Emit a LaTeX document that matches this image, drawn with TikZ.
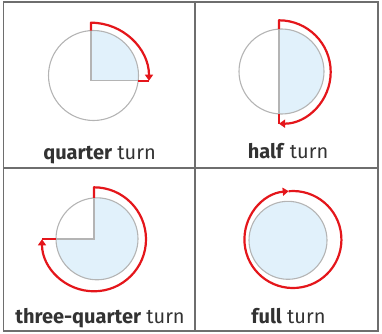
\documentclass[tikz,border=0pt]{standalone}
\usepackage{fontspec}
\setmainfont{Fira Sans}
\usepackage{tikz}
\usetikzlibrary{arrows.meta}
\definecolor{turnred}{RGB}{228,22,27}
\definecolor{dialgray}{RGB}{180,180,180}
\definecolor{shareblue}{RGB}{225,241,251}
\definecolor{gridgray}{RGB}{110,110,110}
\definecolor{textgray}{RGB}{50,50,50}

\begin{document}
\begin{tikzpicture}[
  x=1pt,y=1pt,
  gridline/.style={draw=gridgray,line width=1.1pt},
  dial/.style={draw=dialgray,line width=1.1pt},
  share/.style={fill=shareblue},
  turnarrow/.style={draw=turnred,line width=2.2pt,line join=round},
  turntip/.style={-{Triangle[length=6pt,width=8pt]}},
  lbl/.style={anchor=base,text=textgray,font=\fontsize{20}{24}\selectfont}
]
  \useasboundingbox (0,0) rectangle (382,333);

  % table
  \draw[gridline] (3.5,2) rectangle (378,331);
  \draw[gridline] (195,2) -- (195,331);
  \draw[gridline] (3.5,165) -- (378,165);

  % quarter turn
  \begin{scope}
    \clip (93.5,257.5) circle[radius=45];
    \fill[share] (91,252.3) rectangle (150,310);
  \end{scope}
  \draw[dial] (93.5,257.5) circle[radius=45];
  \draw[dial] (91,302.4) -- (91,252.3) -- (138.2,252.3);
  \draw[turnarrow,turntip] (91,302.4) -- (91,310.3) arc[start angle=90,end angle=0,radius=58];
  \draw[turnarrow] (149,252.3) -- (138.2,252.3);
  \node[lbl] (quarter) at (99.5,174) {\textbf{quarter} turn};

  % half turn
  \begin{scope}
    \clip (281.5,261.5) circle[radius=42.5];
    \fill[share] (279,210) rectangle (330,310);
  \end{scope}
  \draw[dial] (281.5,261.5) circle[radius=42.5];
  \draw[dial] (279,303.9) -- (279,219.1);
  \draw[turnarrow,turntip] (279,303.9) -- (279,312.7) arc[start angle=90,end angle=-90,radius=51.7];
  \draw[turnarrow] (279,209.3) -- (279,219.1);
  \node[lbl] (half) at (288,175) {\textbf{half} turn};

  % three-quarter turn
  \begin{scope}
    \clip (97,94.2) circle[radius=41];
    \fill[share] (94,94) -- (40,94) -- (40,40) -- (150,40) -- (150,150) -- (94,150) -- cycle;
  \end{scope}
  \draw[dial] (97,94.2) circle[radius=41];
  \draw[dial] (94,135.1) -- (94,94) -- (56,94);
  \draw[turnarrow,turntip] (94,135.1) -- (94,145.7) arc[start angle=90,end angle=-180,radius=52];
  \draw[turnarrow] (42,94) -- (56,94);
  \node[lbl] (threequarter) at (100,10) {\textbf{three-quarter} turn};

  % full turn
  \fill[share] (288,92.7) circle[radius=39];
  \draw[dial] (288,92.7) circle[radius=39];
  \draw[turnarrow,turntip] (288.7,141.8) arc[start angle=95,end angle=-265,radius=48.5];
  \node[lbl] (full) at (288.5,10) {\textbf{full} turn};
\end{tikzpicture}
\end{document}
